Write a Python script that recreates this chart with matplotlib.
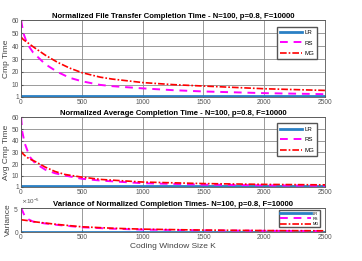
import matplotlib.pyplot as plt
from matplotlib.ticker import ScalarFormatter

plt.rcParams["font.family"] = ["Liberation Sans", "DejaVu Sans"]

k_file = [1, 20, 50, 100, 200, 300, 400, 500, 650, 750, 1000, 1250, 1500, 2000, 2500]
lr_file = [1.1] * len(k_file)
rs_file = [60, 50, 42, 35, 26, 20, 15.5, 12.8, 10, 9, 7.3, 5.9, 4.9, 3.6, 2.8]
mg_file = [47, 45, 43, 39.5, 33, 27.5, 23, 19.5, 16, 14.5, 11.8, 10.2, 9.1, 7.0, 5.7]

k_avg = [1, 10, 30, 55, 75, 115, 200, 280, 360, 500, 660, 1000, 1500, 2000, 2500]
lr_avg = [1.1] * len(k_avg)
rs_avg = [60, 48, 38, 31, 26, 21, 15.3, 12.3, 10.4, 7.6, 6.0, 3.8, 2.6, 2.0, 1.7]
mg_avg = [31, 29.5, 27.5, 25.5, 24.3, 22.4, 17.5, 13.8, 11.3, 9.0, 7.0, 4.8, 3.5, 2.8, 2.4]

k_var = [1, 15, 30, 60, 100, 200, 300, 500, 750, 1000, 1500, 2000, 2500]
lr_var = [0.0] * len(k_var)
rs_var = [5.0, 4.2, 3.3, 2.6, 2.1, 1.7, 1.4, 0.9, 0.6, 0.4, 0.25, 0.15, 0.1]
mg_var = [2.5, 2.45, 2.4, 2.3, 2.1, 1.8, 1.5, 1.0, 0.7, 0.5, 0.3, 0.2, 0.15]

x_ticks = [0, 500, 1000, 1500, 2000, 2500]
names = ["LR", "RS", "MG"]

W, H = 362, 261
fig = plt.figure(figsize=(W / 100, H / 100), dpi=100)


def ax_at(left, top, right, bottom):
    return fig.add_axes([left / W, 1 - bottom / H, (right - left) / W, (bottom - top) / H])


ax1 = ax_at(21, 20.3, 325, 96.5)
ax2 = ax_at(21, 117.3, 325, 186.5)
ax3 = ax_at(21, 208, 325, 231.5)

blue, mag, red = "#2a80c4", "#ff00ff", "#ff0000"
panels = [
    (ax1, k_file, lr_file, rs_file, mg_file, "Normalized File Transfer Completion Time - N=100, p=0.8, F=10000", "Cmp Time"),
    (ax2, k_avg, lr_avg, rs_avg, mg_avg, "Normalized Average Completion Time - N=100, p=0.8, F=10000", "Avg Cmp Time"),
    (ax3, k_var, lr_var, [v * 1e-5 for v in rs_var], [v * 1e-5 for v in mg_var],
     "Variance of Normalized Completion Times- N=100, p=0.8, F=10000", "Variance"),
]

for ax, k, lr, rs, mg, title, ylab in panels:
    ax.plot(k, lr, color=blue, lw=2.0, label=names[0])
    ax.plot(k, rs, color=mag, lw=1.4, ls=(0, (4, 3)), label=names[1])
    ax.plot(k, mg, color=red, lw=1.2, ls=(0, (4, 1.2, 1, 1.2)), label=names[2])
    ax.set_xlim(0, 2500)
    ax.set_xticks(x_ticks)
    ax.set_title(title, fontsize=5.6, fontweight="bold", pad=1.5)
    ax.set_ylabel(ylab, fontsize=6, labelpad=1, color="#444444")
    ax.grid(True, color="#8a8a8a", lw=0.6)
    ax.tick_params(labelsize=4.8, length=1.5, pad=1.5, direction="in", colors="#555555")
    for s in ax.spines.values():
        s.set_color("#555555")
        s.set_linewidth(0.6)

for ax in (ax1, ax2):
    ax.set_ylim(1, 60)
    ax.set_yticks([1, 10, 20, 30, 40, 50, 60])
    ax.legend(loc="upper right", fontsize=4.4, handlelength=3.6, borderpad=0.5,
              labelspacing=0.85, handletextpad=0.4, fancybox=False,
              edgecolor="#555555", framealpha=1, bbox_to_anchor=(0.985, 0.955))

ax3.set_ylim(0, 5e-5)
ax3.set_yticks([0, 5e-5])
fmt = ScalarFormatter(useMathText=True)
fmt.set_powerlimits((0, 0))
ax3.yaxis.set_major_formatter(fmt)
ax3.yaxis.get_offset_text().set_fontsize(4.5)
ax3.yaxis.get_offset_text().set_color("#555555")
ax3.legend(loc="upper right", fontsize=2.8, handlelength=8, borderpad=0.3,
           labelspacing=0.3, handletextpad=0.4, fancybox=False,
           edgecolor="#555555", framealpha=1, bbox_to_anchor=(0.99, 0.98))
ax3.set_xlabel("Coding Window Size K", fontsize=6, labelpad=2, color="#444444")

fig.savefig("out.png", dpi=100)
